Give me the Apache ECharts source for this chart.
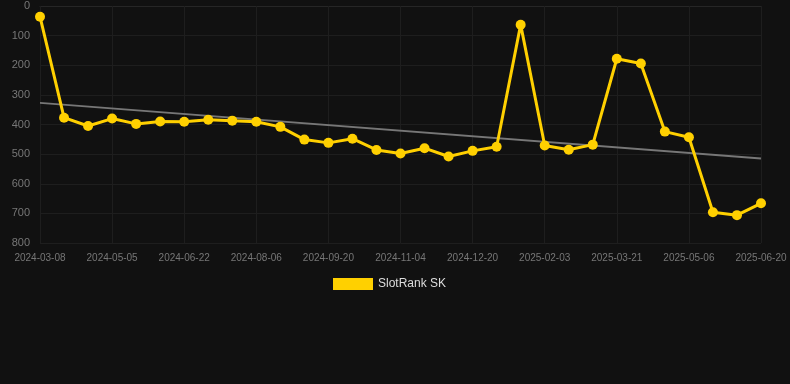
<!DOCTYPE html>
<html>
<head>
<meta charset="UTF-8">
<title>SlotRank SK</title>
<script src="https://cdn.jsdelivr.net/npm/echarts@6/dist/echarts.min.js"></script>
<style>
  html, body { margin: 0; padding: 0; background: #111111; }
</style>
</head>
<body>
<div id="main" style="width: 790px;height:384px;"></div>
<script type="text/javascript">
// dates (category axis)
var dates = ['2024-03-08','2024-03-27','2024-04-16','2024-05-05','2024-05-21','2024-06-06',
  '2024-06-22','2024-07-07','2024-07-22','2024-08-06','2024-08-21','2024-09-05',
  '2024-09-20','2024-10-05','2024-10-20','2024-11-04','2024-11-19','2024-12-05',
  '2024-12-20','2025-01-04','2025-01-19','2025-02-03','2025-02-18','2025-03-06',
  '2025-03-21','2025-04-05','2025-04-20','2025-05-06','2025-05-21','2025-06-05','2025-06-20'];

// rank values
var rank = [36, 377, 405, 380, 398, 390, 391, 384, 387, 391, 408, 451, 462, 448, 486, 498,
  480, 508, 489, 475, 63, 471, 485, 468, 178, 194, 424, 443, 696, 706, 666];

// trend line end points
var trendStart = 327;
var trendEnd = 515;

var trend = dates.map(function (d, i) {
  if (i === 0) return trendStart;
  if (i === dates.length - 1) return trendEnd;
  return null;
});

var myChart = echarts.init(document.getElementById('main'));
var option = {
  backgroundColor: '#111111',
  animation: false,
  grid: { left: 40, right: 29, top: 6, bottom: 141, containLabel: false },
  legend: {
    top: 273,
    left: 328,
    itemWidth: 40,
    itemHeight: 12,
    itemGap: 10,
    data: [{ name: 'SlotRank SK', icon: 'rect' }],
    textStyle: { color: '#dddddd', fontSize: 12, fontFamily: 'Arial, Liberation Sans, sans-serif' }
  },
  xAxis: {
    type: 'category',
    boundaryGap: false,
    data: dates,
    axisLine: { show: true, lineStyle: { color: '#262626' } },
    axisTick: { show: true, interval: 2, length: 8, lineStyle: { color: '#1e1e1e' } },
    axisLabel: { interval: 2, color: '#777777', fontSize: 10, margin: 10,
      fontFamily: 'Arial, Liberation Sans, sans-serif' },
    splitLine: { show: true, interval: 2, lineStyle: { color: '#1e1e1e' } }
  },
  yAxis: {
    type: 'value',
    inverse: true,
    min: 0,
    max: 800,
    interval: 100,
    axisLine: { show: false },
    axisTick: { show: false },
    axisLabel: { color: '#777777', fontSize: 11, margin: 10,
      fontFamily: 'Arial, Liberation Sans, sans-serif' },
    splitLine: { show: true, lineStyle: { color: '#1e1e1e' } }
  },
  series: [
    {
      name: 'trend',
      type: 'line',
      data: trend,
      connectNulls: true,
      symbol: 'none',
      silent: true,
      lineStyle: { color: '#777777', width: 2 },
      z: 1
    },
    {
      name: 'SlotRank SK',
      type: 'line',
      data: rank,
      symbol: 'circle',
      symbolSize: 10,
      itemStyle: { color: '#ffd000' },
      lineStyle: { color: '#ffd000', width: 3 },
      z: 2
    }
  ]
};
myChart.setOption(option);
</script>
</body>
</html>
